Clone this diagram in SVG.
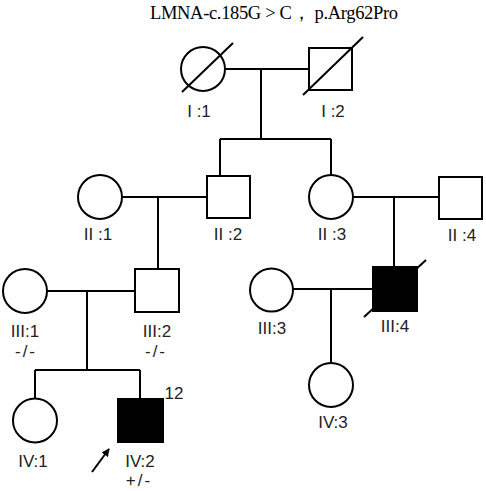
<svg xmlns="http://www.w3.org/2000/svg" width="486" height="491" viewBox="0 0 486 491">
<defs>
<style>
.s{fill:#fff;stroke:#000;stroke-width:2}
.a{fill:#000;stroke:#000;stroke-width:2}
.l{fill:none;stroke:#000;stroke-width:2}
.g{letter-spacing:2px}
</style>
<marker id="ah" viewBox="0 0 10 10" refX="9" refY="5" markerWidth="4" markerHeight="4" orient="auto" markerUnits="strokeWidth">
<path d="M0,0 L10,5 L0,10 Z" fill="#000"/>
</marker>
</defs>
<rect width="486" height="491" fill="#fff"/>
<text x="150" y="19" font-family="Liberation Serif, serif" font-size="18.5" fill="#000" textLength="248" lengthAdjust="spacing">LMNA-c.185G &gt; C，  p.Arg62Pro</text>
<g id="connectors">
<path class="l" d="M225,69 H309 M261,69 V139 M220,139 H331 M220,139 V176 M331,139 V175"/>
<path class="l" d="M122,197 H207 M158,197 V269"/>
<path class="l" d="M353,197 H439 M394,197 V267"/>
<path class="l" d="M47,291 H135 M87,291 V370 M35,370 H140 M35,370 V399 M140,370 V399"/>
<path class="l" d="M293,289 H373 M331,289 V363"/>
<path class="l" d="M92,472 L109,449" stroke-width="3" marker-end="url(#ah)"/>
</g>
<g font-family="Liberation Sans, Arial, sans-serif" font-size="17" fill="#222" text-anchor="middle">
<g id="I1"><circle class="s" cx="203" cy="69" r="22"/><line class="l" x1="182" y1="92" x2="233" y2="43"/><text x="199" y="117">I :1</text></g>
<g id="I2"><rect class="s" x="309" y="48" width="43" height="42"/><line class="l" x1="303" y1="95" x2="363" y2="37"/><text x="333" y="117">I :2</text></g>
<g id="II1"><circle class="s" cx="100" cy="197" r="22"/><text x="98" y="240">II :1</text></g>
<g id="II2"><rect class="s" x="207" y="176" width="43" height="42"/><text x="228" y="240">II :2</text></g>
<g id="II3"><circle class="s" cx="331" cy="197" r="22"/><text x="332" y="240">II :3</text></g>
<g id="II4"><rect class="s" x="439" y="177" width="43" height="42"/><text x="462" y="241">II :4</text></g>
<g id="III1"><circle class="s" cx="25" cy="291" r="22"/><text x="25" y="337">III:1</text><text class="g" x="26" y="357">-/-</text></g>
<g id="III2"><rect class="s" x="135" y="269" width="44" height="43"/><text x="157" y="337">III:2</text><text class="g" x="156" y="357">-/-</text></g>
<g id="III3"><circle class="s" cx="271.5" cy="290" r="21.5"/><text x="272" y="334">III:3</text></g>
<g id="III4"><rect class="a" x="373" y="267" width="44" height="44"/><line class="l" x1="364" y1="317" x2="426" y2="260"/><text x="395" y="332">III:4</text></g>
<g id="IV1"><circle class="s" cx="35" cy="420.5" r="22"/><text x="33" y="467">IV:1</text></g>
<g id="IV2"><rect class="a" x="118" y="399" width="45" height="43"/><text x="174" y="399">12</text><text x="140" y="467">IV:2</text><text class="g" x="139" y="486">+/-</text></g>
<g id="IV3"><circle class="s" cx="331" cy="385" r="22"/><text x="333" y="428">IV:3</text></g>
</g>
</svg>
